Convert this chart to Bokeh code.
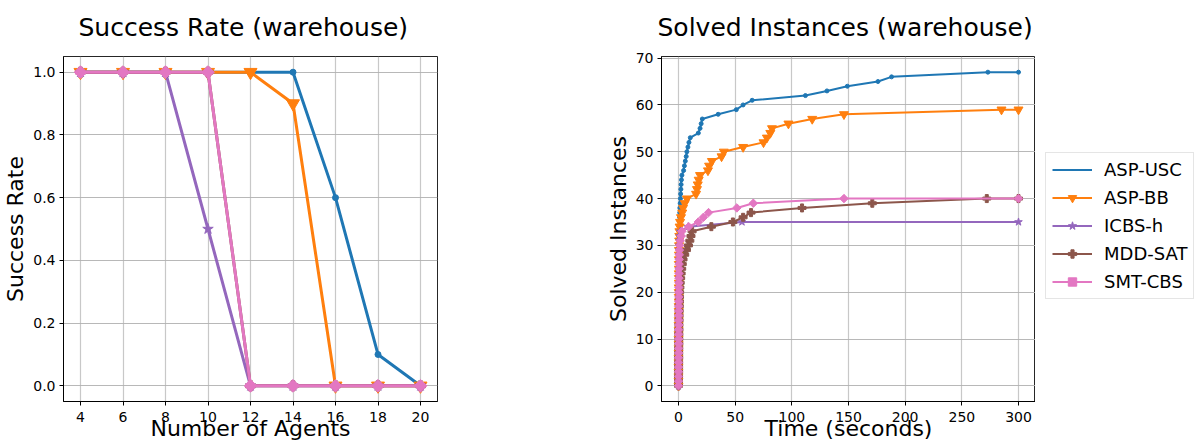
import math
from bokeh.plotting import figure
from bokeh.layouts import row
from bokeh.models import Legend, LegendItem, FixedTicker, PrintfTickFormatter, Range1d
from bokeh.embed import file_html
from bokeh.resources import INLINE

FONT = "DejaVu Sans"

# ---------------- data: success rate ----------------
agents = [4, 6, 8, 10, 12, 14, 16, 18, 20]
sr_asp_usc = [1.0, 1.0, 1.0, 1.0, 1.0, 1.0, 0.6, 0.1, 0.0]
sr_asp_bb = [1.0, 1.0, 1.0, 1.0, 1.0, 0.9, 0.0, 0.0, 0.0]
sr_icbs_h = [1.0, 1.0, 1.0, 0.5, 0.0, 0.0, 0.0, 0.0, 0.0]
sr_mdd_sat = [1.0, 1.0, 1.0, 1.0, 0.0, 0.0, 0.0, 0.0, 0.0]
sr_smt_cbs = [1.0, 1.0, 1.0, 1.0, 0.0, 0.0, 0.0, 0.0, 0.0]

# ---------------- data: solved instances (time, count) ----------------
t_asp_usc = [0.0, 0.0, 0.0, 0.0, 0.0, 0.0, 0.1, 0.1, 0.1, 0.1, 0.1, 0.1, 0.1, 0.2, 0.2,
             0.2, 0.2, 0.2, 0.2, 0.3, 0.3, 0.3, 0.3, 0.3, 0.4, 0.4, 0.4, 0.4, 0.4, 0.5,
             0.5, 0.6, 0.7, 0.8, 0.9, 1.0, 1.0, 1.1, 1.2, 1.5, 1.7, 1.9, 2.1, 2.3, 2.6,
             3.0, 4.5, 5.2, 6.0, 6.8, 7.4, 8.3, 9.2, 10.4, 17.5, 19.0, 20.0, 21.0, 35.0,
             51.0, 57.0, 65.0, 112.0, 131.0, 149.0, 176.0, 188.0, 273.0, 300.0]
n_asp_usc = [0, 1, 2, 3, 4, 5, 6, 7, 8, 9, 10, 11, 12, 13, 14, 15, 16, 17, 18, 19, 20, 21,
             22, 23, 24, 25, 26, 27, 28, 29, 30, 31, 32, 33, 34, 35, 36, 37, 38, 39, 40, 41,
             42, 43, 44, 45, 46, 47, 48, 49, 50, 51, 52, 53, 54, 55, 56, 57, 58, 59, 60, 61,
             62, 63, 64, 65, 66, 67, 67]

t_asp_bb = [0.0, 0.0, 0.0, 0.0, 0.0, 0.0, 0.0, 0.1, 0.1, 0.1, 0.1, 0.1, 0.1, 0.1, 0.2,
            0.2, 0.2, 0.2, 0.2, 0.2, 0.2, 0.2, 0.3, 0.3, 0.3, 0.3, 0.3, 0.3, 0.4, 0.4,
            0.5, 0.6, 0.7, 0.8, 1.0, 1.4, 2.2, 3.3, 4.0, 5.5, 7.5, 15.5, 16.3, 17.0, 17.8,
            19.0, 26.0, 27.0, 29.5, 38.0, 40.0, 57.0, 75.0, 78.0, 81.0, 82.5, 97.0, 118.0,
            146.0, 285.0, 300.0]
n_asp_bb = [0, 1, 2, 3, 4, 5, 6, 7, 8, 9, 10, 11, 12, 13, 14, 15, 16, 17, 18, 19, 20, 21,
            22, 23, 24, 25, 26, 27, 28, 29, 30, 31, 32, 33, 34, 35, 36, 37, 38, 39, 40, 41,
            42, 43, 44, 45, 46, 47, 48, 49, 50, 51, 52, 53, 54, 55, 56, 57, 58, 59, 59]

t_icbs_h = [0.0, 0.0, 0.0, 0.0, 0.0, 0.0, 0.0, 0.0, 0.1, 0.1, 0.1, 0.1, 0.1, 0.1, 0.2,
            0.2, 0.2, 0.2, 0.2, 0.3, 0.3, 0.3, 0.3, 0.4, 0.4, 0.4, 0.5, 0.5, 0.6, 0.6,
            0.7, 0.8, 0.9, 1.5, 8.5, 56.0, 300.0]
n_icbs_h = [0, 1, 2, 3, 4, 5, 6, 7, 8, 9, 10, 11, 12, 13, 14, 15, 16, 17, 18, 19, 20, 21,
            22, 23, 24, 25, 26, 27, 28, 29, 30, 31, 32, 33, 34, 35, 35]

t_mdd_sat = [0.0, 0.0, 0.0, 0.1, 0.1, 0.1, 0.2, 0.2, 0.2, 0.3, 0.3, 0.3, 0.4, 0.4, 0.5,
             0.5, 0.6, 0.7, 0.8, 0.9, 1.0, 1.2, 1.5, 1.9, 2.3, 2.8, 3.3, 4.0, 5.5, 7.0,
             8.8, 10.0, 11.0, 12.0, 29.0, 48.0, 57.0, 64.0, 109.0, 171.0, 272.0, 300.0]
n_mdd_sat = [0, 1, 2, 3, 4, 5, 6, 7, 8, 9, 10, 11, 12, 13, 14, 15, 16, 17, 18, 19, 20, 21,
             22, 23, 24, 25, 26, 27, 28, 29, 30, 31, 32, 33, 34, 35, 36, 37, 38, 39, 40, 40]

t_smt_cbs = [0.0, 0.0, 0.0, 0.0, 0.0, 0.0, 0.0, 0.1, 0.1, 0.1, 0.1, 0.1, 0.1, 0.2, 0.2,
             0.2, 0.2, 0.2, 0.3, 0.3, 0.3, 0.3, 0.4, 0.4, 0.4, 0.5, 0.5, 0.6, 0.7, 0.8,
             1.0, 1.5, 2.5, 3.0, 9.0, 17.5, 22.0, 26.5, 51.5, 66.0, 146.0, 300.0]
n_smt_cbs = [0, 1, 2, 3, 4, 5, 6, 7, 8, 9, 10, 11, 12, 13, 14, 15, 16, 17, 18, 19, 20, 21,
             22, 23, 24, 25, 26, 27, 28, 29, 30, 31, 32, 33, 34, 35, 36, 37, 38, 39, 40, 40]

labels = ["ASP-USC", "ASP-BB", "ICBS-h", "MDD-SAT", "SMT-CBS"]
colors = ["#1f77b4", "#ff7f0e", "#9467bd", "#8c564b", "#e377c2"]
markers = ["circle", "inverted_triangle", "star", "plus", "square"]

x_ticks_left = [4, 6, 8, 10, 12, 14, 16, 18, 20]
y_ticks_left = [0.0, 0.2, 0.4, 0.6, 0.8, 1.0]
x_ticks_right = [0, 50, 100, 150, 200, 250, 300]
y_ticks_right = [0, 10, 20, 30, 40, 50, 60, 70]


def style(p, xlabel, ylabel, xticks, yticks, title_offset):
    p.title.text_font = FONT
    p.title.text_font_size = "25px"
    p.title.text_font_style = "normal"
    p.title.align = "left"
    p.title.offset = title_offset
    p.title.vertical_align = "top"
    p.title.text_color = "black"
    p.title.standoff = 25
    p.outline_line_color = "black"
    p.outline_line_width = 1
    p.outline_line_alpha = 0.85
    p.background_fill_color = "white"
    p.border_fill_color = "white"
    for ax, lab, tk in ((p.xaxis[0], xlabel, xticks), (p.yaxis[0], ylabel, yticks)):
        ax.axis_label = lab
        ax.axis_label_text_font = FONT
        ax.axis_label_text_font_size = "22px"
        ax.axis_label_text_font_style = "normal"
        ax.axis_label_text_color = "black"
        ax.major_label_text_font = FONT
        ax.major_label_text_font_size = "14px"
        ax.major_label_text_color = "black"
        ax.ticker = FixedTicker(ticks=tk)
        ax.major_tick_out = 4
        ax.major_tick_in = 0
        ax.minor_tick_out = 0
        ax.minor_tick_in = 0
        ax.axis_line_color = "black"
        ax.major_tick_line_color = "black"
    p.xaxis[0].major_label_standoff = 6
    p.xaxis[0].axis_label_standoff = -9
    p.yaxis[0].major_label_standoff = 4
    p.yaxis[0].axis_label_standoff = 2
    p.xgrid.ticker = FixedTicker(ticks=xticks)
    p.ygrid.ticker = FixedTicker(ticks=yticks)
    p.xgrid.grid_line_color = "#b0b0b0"
    p.ygrid.grid_line_color = "#b0b0b0"
    p.xgrid.grid_line_alpha = 0.7
    p.ygrid.grid_line_alpha = 0.9
    p.xgrid.grid_line_width = 1.2
    p.ygrid.grid_line_width = 1


# ---------------- left figure ----------------
p1 = figure(width=600, height=443, x_range=Range1d(3.2, 20.8), y_range=Range1d(-0.05, 1.05),
            output_backend="svg", toolbar_location=None, title="Success Rate (warehouse)",
            min_border_left=63, min_border_right=163, min_border_top=55, min_border_bottom=0)
style(p1, "Number of Agents", "Success Rate", x_ticks_left, y_ticks_left, 15)
p1.yaxis[0].formatter = PrintfTickFormatter(format="%.1f")

left_series = [sr_asp_usc, sr_asp_bb, sr_icbs_h, sr_mdd_sat, sr_smt_cbs]
left_sizes = [6, 13, 11, 10, 9]
for ys, c, m, s in zip(left_series, colors, markers, left_sizes):
    p1.line(agents, ys, line_color=c, line_width=3)
    kw = dict(angle=math.pi / 4) if m == "square" else {}
    p1.scatter(agents, ys, marker=m, size=s, fill_color=c, line_color=c, **kw)

# ---------------- right figure ----------------
p2 = figure(width=435, height=443, x_range=Range1d(-15, 315), y_range=Range1d(-3.35, 70.35),
            output_backend="svg", toolbar_location=None, title="Solved Instances (warehouse)",
            min_border_left=61, min_border_right=0, min_border_top=55, min_border_bottom=0)
style(p2, "Time (seconds)", "Solved Instances", x_ticks_right, y_ticks_right, -4)

right_series = [(t_asp_usc, n_asp_usc), (t_asp_bb, n_asp_bb), (t_icbs_h, n_icbs_h),
                (t_mdd_sat, n_mdd_sat), (t_smt_cbs, n_smt_cbs)]
right_sizes = [4, 9, 8, 8, 6]

# ---------------- legend panel ----------------
p3 = figure(width=164, height=443, x_range=Range1d(0, 1), y_range=Range1d(0, 1),
            output_backend="svg", toolbar_location=None,
            x_axis_location=None, y_axis_location=None,
            min_border_left=0, min_border_right=0, min_border_top=0, min_border_bottom=0)
p3.outline_line_color = None
p3.xgrid.visible = False
p3.ygrid.visible = False

legend_markers = ["dot", "inverted_triangle", "star", "plus", "square"]
items = []
for (ts, ns), c, m, lm, s, lab in zip(right_series, colors, markers, legend_markers,
                                       right_sizes, labels):
    kw = dict(angle=math.pi / 4) if m == "square" else {}
    p2.line(ts, ns, line_color=c, line_width=2)
    p2.scatter(ts, ns, marker=m, size=s, fill_color=c, line_color=c, **kw)
    # off-canvas proxies so the legend can draw each series' glyph
    lr = p3.line([5, 6], [5, 6], line_color=c, line_width=2)
    lw = 3 if lm == "dot" else 1
    sr = p3.scatter([5], [5], marker=lm, size=s, fill_color=c, line_color=c,
                    line_width=lw, **kw)
    items.append(LegendItem(label=lab, renderers=[lr, sr]))

legend = Legend(items=items, location=(10, 102))
legend.label_text_font = FONT
legend.label_text_font_size = "18px"
legend.label_text_color = "black"
legend.glyph_width = 40
legend.glyph_height = 21
legend.label_height = 21
legend.spacing = 7
legend.padding = 6
legend.margin = 0
legend.label_standoff = 12
legend.border_line_color = "#cccccc"
legend.border_line_width = 1
legend.background_fill_color = "white"
p3.add_layout(legend, "center")

layout = row(p1, p2, p3)
open("out.html", "w").write(file_html(layout, INLINE))
